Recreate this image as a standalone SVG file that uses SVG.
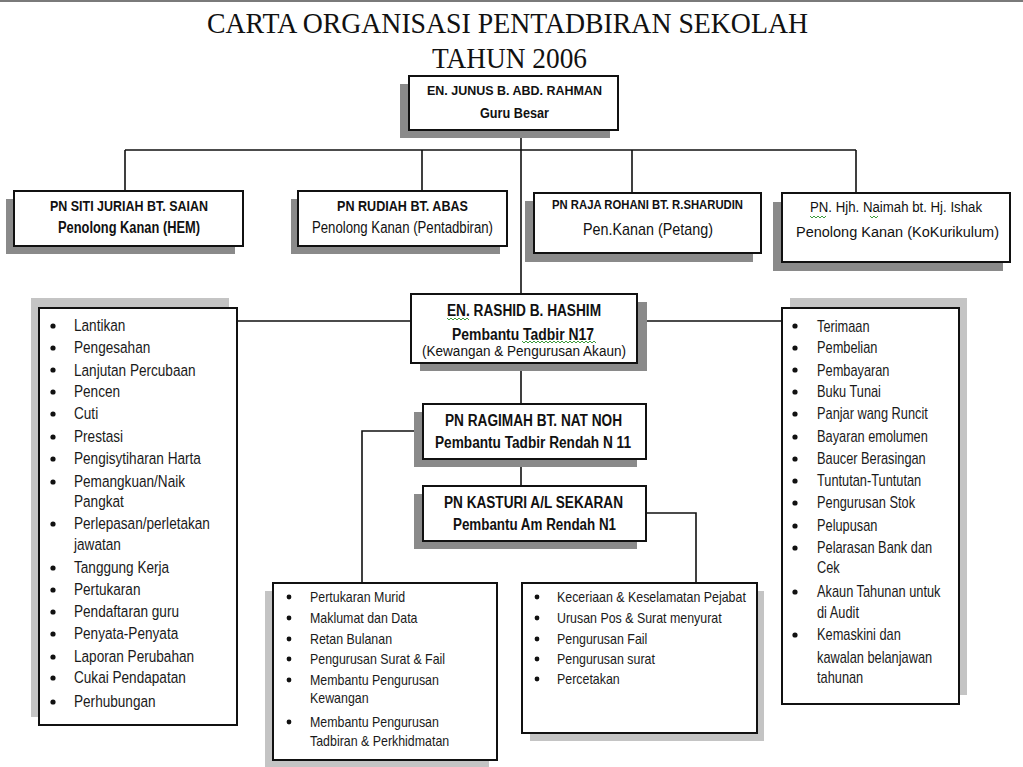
<svg xmlns="http://www.w3.org/2000/svg" width="1023" height="767" viewBox="0 0 1023 767">
<style>
.bg{fill:#fff}
.sh{fill:#8a8a8a}
.shl{fill:#c4c4c4}
.box{fill:#fff;stroke:#111;stroke-width:2}
.con{fill:none;stroke:#111;stroke-width:1.6}
.t{font-family:"Liberation Serif","Times New Roman",serif;fill:#111}
.nb{font-family:"Liberation Sans",Arial,sans-serif;font-weight:bold;fill:#111;text-anchor:start}
.nn{font-family:"Liberation Sans",Arial,sans-serif;fill:#111;text-anchor:start}
.li{font-family:"Liberation Sans",Arial,sans-serif;fill:#1a1a1a}
.bul{fill:#111}
.wav{fill:none;stroke:#3c9a3c;stroke-width:1}
</style>
<rect class="bg" x="0" y="0" width="1023" height="767"/>
<line x1="0" y1="1" x2="1023" y2="1" stroke="#7a7a7a" stroke-width="2"/>

<g id="title">
<text class="t" x="207" y="33" font-size="30" textLength="601" lengthAdjust="spacingAndGlyphs">CARTA ORGANISASI PENTADBIRAN SEKOLAH</text>
<text class="t" x="432" y="68" font-size="30" textLength="155" lengthAdjust="spacingAndGlyphs">TAHUN 2006</text>
</g>

<g id="connectors">
<path class="con" d="M521 130 V294"/>
<path class="con" d="M125 150 H856"/>
<path class="con" d="M125 150 V191 M422 150 V191 M632 150 V193 M856 150 V193"/>
<path class="con" d="M237 321 H411 M637 321 H782"/>
<path class="con" d="M521 363 V404 M521 459 V486"/>
<path class="con" d="M423 431 H362 V583"/>
<path class="con" d="M646 513 H696 V583"/>
</g>

<g id="guru-besar">
<rect class="sh" x="400" y="84" width="210" height="54"/>
<rect class="box" x="409" y="76" width="209" height="54"/>
<text class="nb" x="427" y="95" font-size="13" textLength="175" lengthAdjust="spacingAndGlyphs">EN. JUNUS B. ABD. RAHMAN</text>
<text class="nb" x="480" y="118" font-size="14" textLength="69" lengthAdjust="spacingAndGlyphs">Guru Besar</text>
</g>

<g id="pk-hem">
<rect class="sh" x="6" y="199" width="229" height="55"/>
<rect class="box" x="14" y="191" width="229" height="55"/>
<text class="nb" x="50" y="211" font-size="15" textLength="158" lengthAdjust="spacingAndGlyphs">PN SITI JURIAH BT. SAIAN</text>
<text class="nb" x="58" y="233" font-size="16" textLength="142" lengthAdjust="spacingAndGlyphs">Penolong Kanan (HEM)</text>
</g>

<g id="pk-pentadbiran">
<rect class="sh" x="291" y="199" width="209" height="55"/>
<rect class="box" x="298" y="191" width="209" height="55"/>
<text class="nb" x="337" y="211" font-size="15" textLength="131" lengthAdjust="spacingAndGlyphs">PN RUDIAH BT. ABAS</text>
<text class="nn" x="312" y="233" font-size="16" textLength="181" lengthAdjust="spacingAndGlyphs">Penolong Kanan (Pentadbiran)</text>
</g>

<g id="pk-petang">
<rect class="sh" x="525" y="201" width="228" height="61"/>
<rect class="box" x="534" y="193" width="227" height="60"/>
<text class="nb" x="552" y="209" font-size="12" textLength="191" lengthAdjust="spacingAndGlyphs">PN RAJA ROHANI BT. R.SHARUDIN</text>
<text class="nn" x="583" y="235" font-size="17" textLength="130" lengthAdjust="spacingAndGlyphs">Pen.Kanan (Petang)</text>
</g>

<g id="pk-kokurikulum">
<rect class="sh" x="773" y="202" width="230" height="69"/>
<rect class="box" x="782" y="193" width="228" height="69"/>
<text class="nn" x="810" y="212" font-size="14" textLength="172" lengthAdjust="spacingAndGlyphs">PN. Hjh. Naimah bt. Hj. Ishak</text>
<text class="nn" x="796" y="237" font-size="15.5" textLength="203" lengthAdjust="spacingAndGlyphs">Penolong Kanan (KoKurikulum)</text>
<path class="wav" d="M810 216 l2 2 l2 -2 l2 2 l2 -2 l2 2 l2 -2 l2 2 l2 -2 M870 216 l2 2 l2 -2 l2 2 l2 -2"/>
</g>

<g id="rashid">
<rect class="sh" x="420" y="302" width="227" height="69"/>
<rect class="box" x="411" y="294" width="226" height="69"/>
<text class="nb" x="447" y="316" font-size="16" textLength="154" lengthAdjust="spacingAndGlyphs">EN. RASHID B. HASHIM</text>
<text class="nb" x="452" y="340" font-size="16" textLength="142" lengthAdjust="spacingAndGlyphs">Pembantu Tadbir  N17</text>
<text class="nn" x="422" y="356" font-size="14" textLength="204" lengthAdjust="spacingAndGlyphs">(Kewangan &amp;  Pengurusan Akaun)</text>
<path class="wav" d="M447 318 l2 2 l2 -2 l2 2 l2 -2 l2 2 l2 -2 l2 2 l2 -2 l2 2 l2 -2 l2 2"/>
<path class="wav" d="M522 341 l2 2 l2 -2 l2 2 l2 -2 l2 2 l2 -2 l2 2 l2 -2 l2 2 l2 -2 l2 2 l2 -2 l2 2 l2 -2 l2 2 l2 -2 l2 2 l2 -2 l2 2 l2 -2 l2 2 l2 -2 l2 2 l2 -2 l2 2 l2 -2 l2 2 l2 -2 l2 2 l2 -2 l2 2 l2 -2 l2 2 l2 -2 l2 2 l2 -2 l2 2"/>
</g>

<g id="ragimah">
<rect class="sh" x="414" y="412" width="223" height="55"/>
<rect class="box" x="423" y="404" width="223" height="55"/>
<text class="nb" x="445" y="426" font-size="16" textLength="177" lengthAdjust="spacingAndGlyphs">PN RAGIMAH BT. NAT NOH</text>
<text class="nb" x="435" y="448" font-size="16" textLength="196" lengthAdjust="spacingAndGlyphs">Pembantu Tadbir Rendah N 11</text>
</g>

<g id="kasturi">
<rect class="sh" x="414" y="494" width="223" height="55"/>
<rect class="box" x="423" y="486" width="223" height="55"/>
<text class="nb" x="444" y="508" font-size="16" textLength="179" lengthAdjust="spacingAndGlyphs">PN KASTURI A/L SEKARAN</text>
<text class="nb" x="453" y="530" font-size="16" textLength="163" lengthAdjust="spacingAndGlyphs">Pembantu Am Rendah N1</text>
</g>

<g id="list-left">
<rect class="shl" x="31" y="298" width="198" height="419"/>
<rect class="box" x="39" y="308" width="198" height="417"/>
<g class="bul">
<circle cx="53" cy="326" r="2.6"/><circle cx="53" cy="348" r="2.6"/><circle cx="53" cy="370" r="2.6"/><circle cx="53" cy="392" r="2.6"/><circle cx="53" cy="414" r="2.6"/><circle cx="53" cy="437" r="2.6"/><circle cx="53" cy="459" r="2.6"/><circle cx="53" cy="482" r="2.6"/><circle cx="53" cy="524" r="2.6"/><circle cx="53" cy="568" r="2.6"/><circle cx="53" cy="590" r="2.6"/><circle cx="53" cy="612" r="2.6"/><circle cx="53" cy="634" r="2.6"/><circle cx="53" cy="657" r="2.6"/><circle cx="53" cy="678" r="2.6"/><circle cx="53" cy="702" r="2.6"/>
</g>
<g transform="translate(74 0) scale(0.8 1)" class="li" font-size="17">
<text x="0" y="331">Lantikan</text>
<text x="0" y="353">Pengesahan</text>
<text x="0" y="376">Lanjutan Percubaan</text>
<text x="0" y="397">Pencen</text>
<text x="0" y="419">Cuti</text>
<text x="0" y="442">Prestasi</text>
<text x="0" y="464">Pengisytiharan Harta</text>
<text x="0" y="487">Pemangkuan/Naik</text>
<text x="0" y="507">Pangkat</text>
<text x="0" y="529">Perlepasan/perletakan</text>
<text x="0" y="550">jawatan</text>
<text x="0" y="573">Tanggung Kerja</text>
<text x="0" y="595">Pertukaran</text>
<text x="0" y="617">Pendaftaran guru</text>
<text x="0" y="639">Penyata-Penyata</text>
<text x="0" y="662">Laporan Perubahan</text>
<text x="0" y="683">Cukai Pendapatan</text>
<text x="0" y="707">Perhubungan</text>
</g>
</g>

<g id="list-right">
<rect class="shl" x="790" y="298" width="177" height="397"/>
<rect class="box" x="782" y="308" width="177" height="396"/>
<g class="bul">
<circle cx="795" cy="326" r="2.6"/><circle cx="795" cy="348" r="2.6"/><circle cx="795" cy="370" r="2.6"/><circle cx="795" cy="392" r="2.6"/><circle cx="795" cy="414" r="2.6"/><circle cx="795" cy="437" r="2.6"/><circle cx="795" cy="459" r="2.6"/><circle cx="795" cy="481" r="2.6"/><circle cx="795" cy="503" r="2.6"/><circle cx="795" cy="526" r="2.6"/><circle cx="795" cy="548" r="2.6"/><circle cx="795" cy="592" r="2.6"/><circle cx="795" cy="635" r="2.6"/>
</g>
<g transform="translate(817 0) scale(0.8 1)" class="li" font-size="16">
<text x="0" y="332">Terimaan</text>
<text x="0" y="353">Pembelian</text>
<text x="0" y="376">Pembayaran</text>
<text x="0" y="397">Buku Tunai</text>
<text x="0" y="419">Panjar wang Runcit</text>
<text x="0" y="442">Bayaran emolumen</text>
<text x="0" y="464">Baucer Berasingan</text>
<text x="0" y="486">Tuntutan-Tuntutan</text>
<text x="0" y="508">Pengurusan Stok</text>
<text x="0" y="531">Pelupusan</text>
<text x="0" y="553">Pelarasan Bank dan</text>
<text x="0" y="573">Cek</text>
<text x="0" y="597">Akaun Tahunan untuk</text>
<text x="0" y="618">di Audit</text>
<text x="0" y="640">Kemaskini dan</text>
<text x="0" y="663">kawalan belanjawan</text>
<text x="0" y="683">tahunan</text>
</g>
</g>

<g id="list-bottom-left">
<rect class="shl" x="265" y="591" width="224" height="176"/>
<rect class="box" x="273" y="583" width="224" height="177"/>
<g class="bul">
<circle cx="289" cy="597" r="2.4"/><circle cx="289" cy="618" r="2.4"/><circle cx="289" cy="639" r="2.4"/><circle cx="289" cy="659" r="2.4"/><circle cx="289" cy="680" r="2.4"/><circle cx="289" cy="722" r="2.4"/>
</g>
<g transform="translate(310 0) scale(0.886 1)" class="li" font-size="14">
<text x="0" y="602">Pertukaran Murid</text>
<text x="0" y="623">Maklumat dan Data</text>
<text x="0" y="644">Retan Bulanan</text>
<text x="0" y="664">Pengurusan Surat &amp; Fail</text>
<text x="0" y="685">Membantu Pengurusan</text>
<text x="0" y="703">Kewangan</text>
<text x="0" y="727">Membantu Pengurusan</text>
<text x="0" y="746">Tadbiran &amp; Perkhidmatan</text>
</g>
</g>

<g id="list-bottom-right">
<rect class="shl" x="530" y="591" width="234" height="150"/>
<rect class="box" x="522" y="583" width="235" height="150"/>
<g class="bul">
<circle cx="537" cy="597" r="2.4"/><circle cx="537" cy="618" r="2.4"/><circle cx="537" cy="639" r="2.4"/><circle cx="537" cy="659" r="2.4"/><circle cx="537" cy="679" r="2.4"/>
</g>
<g transform="translate(557 0) scale(0.886 1)" class="li" font-size="14">
<text x="0" y="602">Keceriaan &amp; Keselamatan Pejabat</text>
<text x="0" y="623">Urusan Pos &amp; Surat menyurat</text>
<text x="0" y="644">Pengurusan Fail</text>
<text x="0" y="664">Pengurusan surat</text>
<text x="0" y="684">Percetakan</text>
</g>
</g>
</svg>
